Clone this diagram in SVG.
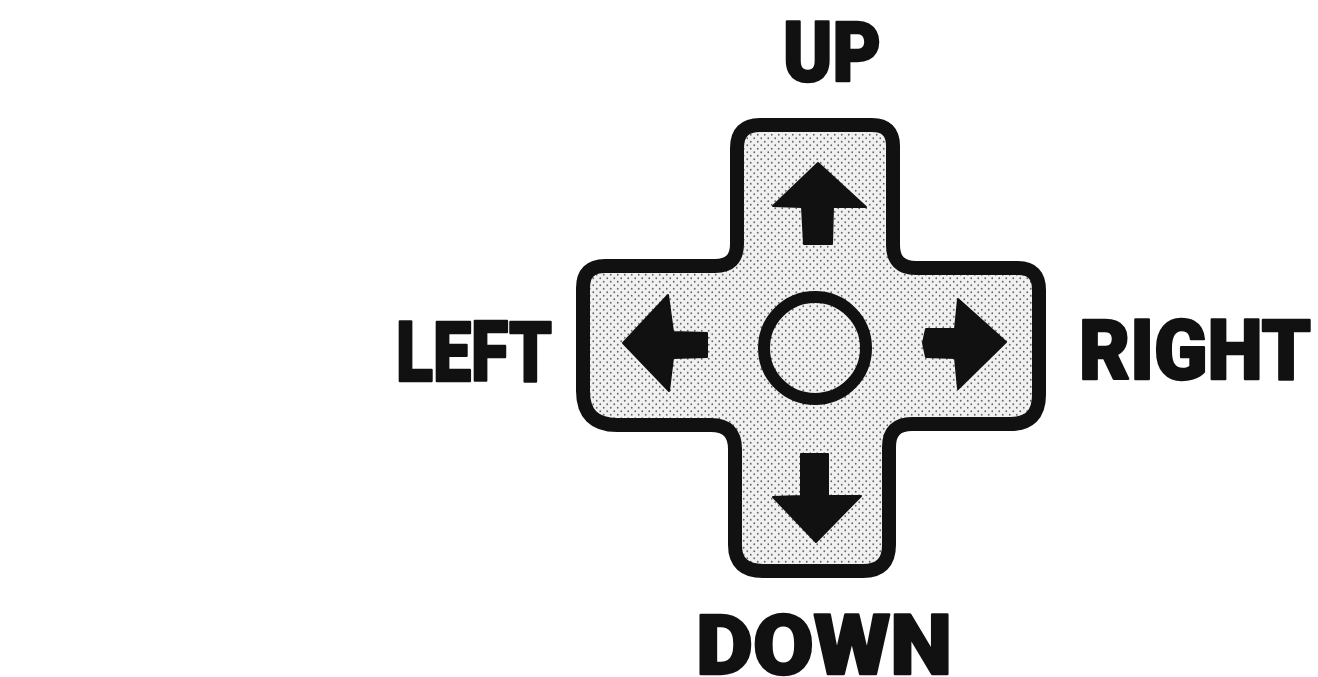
<svg xmlns="http://www.w3.org/2000/svg" width="1318" height="677" viewBox="0 0 1318 677">
<style>
.lbl{font-family:Roboto,"Liberation Sans",Arial,sans-serif;font-weight:900;font-size:84px;fill:#111;stroke:#111;stroke-width:2.5px;stroke-linejoin:round}
.arrow{fill:#111;stroke:#111;stroke-width:2px;stroke-linejoin:round}
</style>
<defs>
<pattern id="dots" width="7" height="7" patternUnits="userSpaceOnUse">
<rect width="7" height="7" fill="#f1f1f1"/>
<circle cx="1.75" cy="1.75" r="0.9" fill="#666"/>
<circle cx="5.25" cy="5.25" r="0.9" fill="#666"/>
</pattern>
</defs>
<rect width="1318" height="677" fill="#fff"/>
<g id="dpad">
<path d="M760 125 H872 Q893 125 893 146 V245 Q893 268 916 268 H1018 Q1039 268 1039 290 V395 Q1039 424 1010 424 H912 Q889 424 889 447 V545 Q889 571 863 571 H763 Q735 571 735 545 V449 Q735 425 711 425 H617 Q583 425 583 391 V288 Q583 266 605 266 H715 Q737 266 737 244 V148 Q737 125 760 125 Z" fill="url(#dots)" stroke="#111" stroke-width="14"/>
</g>
<g id="center">
<circle cx="815" cy="348" r="51" fill="url(#dots)" stroke="#111" stroke-width="12"/>
</g>
<g id="arrow-up"><path class="arrow" d="M818 163 L866 207 L833 207 L832 244 L804 244 L802 207 L773 206 Z"/></g>
<g id="arrow-down"><path class="arrow" d="M816 542 L773 497 L801 496 L801 454 L828 454 L828 496 L861 496 Z"/></g>
<g id="arrow-left"><path class="arrow" d="M623 343 L668 295 L673 332 L707 333 L707 357 L673 358 L669 391 Z"/></g>
<g id="arrow-right"><path class="arrow" d="M1006 342 L958 299 L955 329 L926 329 L923 343 L926 357 L955 358 L958 389 Z"/></g>
<g id="label-up"><text class="lbl" x="783" y="81" textLength="98" lengthAdjust="spacingAndGlyphs">UP</text></g>
<g id="label-left"><text class="lbl" x="396" y="381" textLength="156" lengthAdjust="spacingAndGlyphs">LEFT</text></g>
<g id="label-right"><text class="lbl" x="1079" y="379" textLength="232" lengthAdjust="spacingAndGlyphs">RIGHT</text></g>
<g id="label-down"><text class="lbl" x="696" y="674" textLength="256" lengthAdjust="spacingAndGlyphs">DOWN</text></g>
</svg>
